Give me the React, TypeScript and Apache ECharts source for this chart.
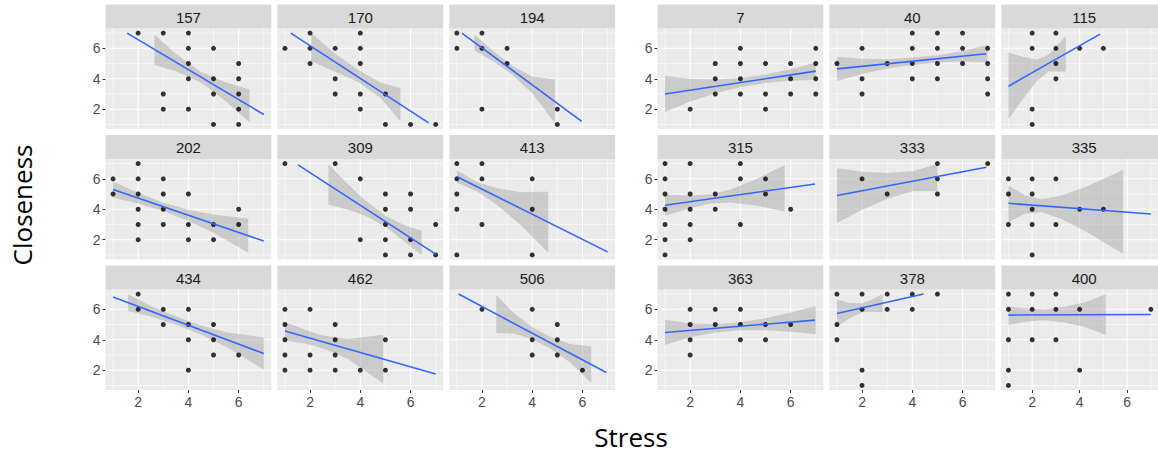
import React, { useEffect, useRef } from 'react';
import * as echarts from 'echarts';

// ---------- data ----------
const leftIds = ['157', '170', '194', '202', '309', '413', '434', '462', '506'];
const rightIds = ['7', '40', '115', '315', '333', '335', '363', '378', '400'];
const xTicks = [2, 4, 6];
const yTicks = [2, 4, 6];
const gridVals = [1, 2, 3, 4, 5, 6, 7];
const xTitle = 'Stress';
const yTitle = 'Closeness';

// points [stress, closeness]
const pts157 = [[2,7],[3,7],[4,7],[4,6],[5,6],[4,5],[6,5],[4,4],[5,4],[6,4],[3,3],[5,3],[6,3],[3,2],[4,2],[6,2],[5,1],[6,1]];
const pts170 = [[2,7],[4,7],[1,6],[2,6],[3,6],[4,6],[2,5],[4,5],[3,4],[3,3],[4,3],[5,3],[4,2],[5,1],[6,1],[7,1]];
const pts194 = [[1,7],[2,7],[1,6],[2,6],[3,6],[3,5],[2,2],[5,2],[5,1]];
const pts202 = [[2,7],[1,6],[2,6],[3,6],[1,5],[2,5],[3,5],[4,5],[2,4],[3,4],[6,4],[2,3],[3,3],[4,3],[5,3],[6,3],[2,2],[4,2],[5,2]];
const pts309 = [[1,7],[3,7],[4,6],[5,5],[6,5],[5,4],[6,4],[5,3],[7,3],[4,2],[5,2],[6,2],[5,1],[6,1],[7,1]];
const pts413 = [[1,7],[2,7],[1,6],[2,6],[4,6],[1,5],[1,4],[4,4],[2,3],[1,1],[4,1]];
const pts434 = [[2,7],[2,6],[3,6],[4,6],[3,5],[4,5],[5,5],[4,4],[5,4],[5,3],[6,3],[4,2]];
const pts462 = [[1,6],[2,6],[1,5],[3,5],[1,4],[3,4],[5,4],[1,3],[2,3],[3,3],[1,2],[2,2],[3,2],[4,2],[5,2]];
const pts506 = [[2,6],[4,6],[5,5],[4,4],[5,4],[4,3],[5,3],[6,2]];
const pts7 = [[4,6],[7,6],[3,5],[4,5],[5,5],[6,5],[7,5],[3,4],[4,4],[6,4],[7,4],[3,3],[4,3],[5,3],[6,3],[7,3],[2,2],[5,2]];
const pts40 = [[4,7],[5,7],[6,7],[2,6],[4,6],[5,6],[6,6],[7,6],[1,5],[3,5],[4,5],[5,5],[6,5],[7,5],[2,4],[4,4],[5,4],[7,4],[2,3],[7,3]];
const pts115 = [[2,7],[3,7],[2,6],[3,6],[4,6],[5,6],[3,5],[3,4],[2,2],[2,1]];
const pts315 = [[1,7],[2,7],[4,7],[1,6],[4,6],[5,6],[1,5],[2,5],[3,5],[5,5],[1,4],[2,4],[3,4],[6,4],[1,3],[2,3],[4,3],[1,2],[2,2],[1,1]];
const pts333 = [[5,7],[7,7],[2,6],[5,6],[3,5],[5,5]];
const pts335 = [[1,6],[2,6],[3,6],[1,5],[2,5],[2,4],[4,4],[5,4],[1,3],[2,3],[3,3],[2,1]];
const pts363 = [[2,6],[3,6],[4,6],[2,5],[3,5],[4,5],[5,5],[6,5],[2,4],[4,4],[5,4],[2,3]];
const pts378 = [[1,7],[2,7],[3,7],[4,7],[5,7],[2,6],[3,6],[4,6],[1,5],[1,4],[2,2],[2,1]];
const pts400 = [[1,7],[2,7],[3,7],[1,6],[2,6],[3,6],[4,6],[7,6],[1,4],[2,4],[3,4],[1,2],[4,2],[1,1]];

// fitted line end points [[x0,y0],[x1,y1]]
const line157 = [[1.56,7.0],[7.0,1.65]];
const line170 = [[1.23,7.0],[6.72,1.1]];
const line194 = [[1.2,7.0],[5.97,1.2]];
const line202 = [[1.0,5.29],[7.0,1.91]];
const line309 = [[1.52,6.91],[7.0,1.05]];
const line413 = [[1.03,6.12],[7.0,1.2]];
const line434 = [[1.0,6.8],[7.0,3.1]];
const line462 = [[1.0,4.57],[7.0,1.75]];
const line506 = [[1.07,7.0],[6.95,1.85]];
const line7 = [[1,3.0],[7,4.5]];
const line40 = [[1,4.65],[6.95,5.64]];
const line115 = [[1,3.51],[4.86,6.93]];
const line315 = [[1,4.26],[6.97,5.66]];
const line333 = [[1,4.9],[6.95,6.76]];
const line335 = [[1,4.39],[7,3.69]];
const line363 = [[1,4.48],[6.97,5.29]];
const line378 = [[1,5.73],[4.45,7.0]];
const line400 = [[1,5.62],[7,5.66]];

// confidence band [x, lower, upper]
const band157 = [[2.65,4.9,6.9],[3.5,4.5,5.65],[4.5,3.75,4.45],[5.5,2.5,3.75],[6.43,1.15,3.3]];
const band170 = [[2.05,5.15,7.0],[3.0,4.45,5.65],[3.9,3.8,4.6],[4.8,2.75,3.75],[5.6,1.2,3.4]];
const band194 = [[1.7,5.85,6.9],[2.5,5.08,5.76],[3.2,4.28,4.86],[4.0,3.05,4.15],[4.9,1.1,3.95]];
const band202 = [[1,4.75,5.83],[2,4.38,5.07],[3,3.88,4.44],[4,3.23,3.97],[5,2.45,3.65],[6.38,1.14,3.38]];
const band309 = [[2.73,4.31,6.95],[3.5,3.96,5.66],[4.2,3.57,4.57],[5,2.87,3.57],[5.8,1.82,2.92],[6.44,1.0,2.6]];
const band413 = [[1,5.74,6.56],[1.8,5.19,5.79],[2.6,4.28,5.38],[3.5,3.03,5.13],[4.64,1.15,5.15]];
const band434 = [[1.6,5.88,6.98],[2.5,5.52,6.22],[3.5,4.98,5.54],[4.5,4.34,4.94],[5.5,3.54,4.5],[7,2.05,4.15]];
const band462 = [[1,3.97,5.17],[1.8,3.75,4.65],[2.5,3.44,4.28],[3.5,2.75,4.05],[4.91,1.13,4.33]];
const band506 = [[2.57,4.44,6.94],[3.3,4.4,5.7],[4,4.03,4.83],[4.7,3.44,4.2],[5.5,2.52,3.72],[6.35,1.17,3.57]];
const band7 = [[1,1.82,4.18],[2,2.5,4.0],[3,3.05,3.95],[4,3.45,4.05],[5,3.72,4.28],[6,3.87,4.63],[7,3.93,5.07]];
const band40 = [[1,3.86,5.44],[2,4.32,5.32],[3,4.68,5.28],[4,4.9,5.4],[5,5.07,5.55],[6,5.14,5.82],[7,5.08,6.22]];
const band115 = [[1,1.33,5.73],[1.6,2.64,5.44],[2.2,3.87,5.27],[2.7,4.47,5.57],[3.42,4.47,6.83]];
const band315 = [[1,3.57,4.95],[2,4.07,4.91],[2.8,4.38,4.98],[3.6,4.45,5.29],[4.6,4.25,5.95],[5.76,3.85,6.91]];
const band333 = [[1,3.1,6.7],[2,3.96,6.46],[3,4.68,6.38],[4,5.19,6.49],[5,5.2,6.95]];
const band335 = [[1,3.15,5.55],[1.7,3.71,4.91],[2.4,3.8,4.66],[3.2,3.38,4.88],[4.3,2.5,5.5],[5.83,1.08,6.58]];
const band363 = [[1,3.65,5.31],[2,4.17,5.07],[3,4.47,5.03],[4,4.63,5.15],[5,4.62,5.42],[6,4.53,5.79],[7,4.36,6.22]];
const band378 = [[1,4.85,6.65],[1.5,5.41,6.41],[2,5.8,6.4],[2.4,5.84,6.64],[2.82,5.8,7.0]];
const band400 = [[1,4.98,6.18],[1.8,5.2,6.05],[2.5,5.28,5.98],[3.3,5.15,6.15],[4.2,4.85,6.45],[5.1,4.32,6.98]];

const leftPts = [pts157, pts170, pts194, pts202, pts309, pts413, pts434, pts462, pts506];
const rightPts = [pts7, pts40, pts115, pts315, pts333, pts335, pts363, pts378, pts400];
const leftLines = [line157, line170, line194, line202, line309, line413, line434, line462, line506];
const rightLines = [line7, line40, line115, line315, line333, line335, line363, line378, line400];
const leftBands = [band157, band170, band194, band202, band309, band413, band434, band462, band506];
const rightBands = [band7, band40, band115, band315, band333, band335, band363, band378, band400];

// ---------- layout ----------
const X_MIN = 0.7, X_MAX = 7.3, Y_MIN = 0.7, Y_MAX = 7.3;
const groupLefts = [105.5, 657.5];
const panelW = 165.8;
const gapX = 6.1;
const stripTop0 = 4.5;
const rowPitch = 130.5;
const stripH = 24;
const plotH = 100.5;

export default function App() {
  const ref = useRef<HTMLDivElement>(null);

  useEffect(() => {
    const chart = echarts.init(ref.current as HTMLDivElement, null, { renderer: 'svg' });

    const grids: any[] = [];
    const xAxes: any[] = [];
    const yAxes: any[] = [];
    const series: any[] = [];
    const graphics: any[] = [];

    const groups = [
      { ids: leftIds, pts: leftPts, lines: leftLines, bands: leftBands },
      { ids: rightIds, pts: rightPts, lines: rightLines, bands: rightBands },
    ];

    groups.forEach((g, gi) => {
      g.ids.forEach((id, k) => {
        const r = Math.floor(k / 3);
        const c = k % 3;
        const left = groupLefts[gi] + c * (panelW + gapX);
        const stripTop = stripTop0 + r * rowPitch;
        const top = stripTop + stripH;
        const idx = grids.length;
        const bottomRow = r === 2;
        const firstCol = c === 0;

        grids.push({
          left, top, width: panelW, height: plotH,
          show: true, backgroundColor: '#EBEBEB', borderWidth: 0, containLabel: false,
        });
        xAxes.push({
          gridIndex: idx, type: 'value', min: X_MIN, max: X_MAX,
          axisLine: { show: false },
          splitLine: { show: false },
          axisTick: { show: bottomRow, customValues: xTicks, length: 3, lineStyle: { color: '#333333', width: 1 } },
          axisLabel: { show: bottomRow, customValues: xTicks, color: '#4D4D4D', fontSize: 14, margin: 5, fontFamily: 'Liberation Sans' },
        });
        yAxes.push({
          gridIndex: idx, type: 'value', min: Y_MIN, max: Y_MAX,
          axisLine: { show: false },
          splitLine: { show: false },
          axisTick: { show: firstCol, customValues: yTicks, length: 3, lineStyle: { color: '#333333', width: 1 } },
          axisLabel: { show: firstCol, customValues: yTicks, color: '#4D4D4D', fontSize: 14, margin: 5, fontFamily: 'Liberation Sans' },
        });

        // grid lines (major / minor) drawn through the axes' scales
        series.push({
          type: 'custom', xAxisIndex: idx, yAxisIndex: idx, silent: true,
          data: gridVals.map((v) => [v, v]),
          renderItem: (_p: any, api: any) => {
            const v = api.value(0);
            const major = xTicks.indexOf(v) >= 0;
            const lw = major ? 1.1 : 0.55;
            const a = api.coord([v, Y_MIN]);
            const b = api.coord([v, Y_MAX]);
            const cc = api.coord([X_MIN, v]);
            const d = api.coord([X_MAX, v]);
            return {
              type: 'group',
              children: [
                { type: 'line', shape: { x1: a[0], y1: a[1], x2: b[0], y2: b[1] }, style: { stroke: '#FFFFFF', lineWidth: lw } },
                { type: 'line', shape: { x1: cc[0], y1: cc[1], x2: d[0], y2: d[1] }, style: { stroke: '#FFFFFF', lineWidth: lw } },
              ],
            };
          },
        });

        // points
        series.push({
          type: 'scatter', xAxisIndex: idx, yAxisIndex: idx, silent: true,
          data: g.pts[k], symbolSize: 5, itemStyle: { color: '#000000' },
        });

        // confidence band
        const band = g.bands[k];
        series.push({
          type: 'custom', xAxisIndex: idx, yAxisIndex: idx, silent: true,
          data: band,
          renderItem: (p: any, api: any) => {
            if (p.dataIndex !== 0) return null;
            const upper = band.map((b) => api.coord([b[0], b[2]]));
            const lower = band.slice().reverse().map((b) => api.coord([b[0], b[1]]));
            return {
              type: 'polygon',
              shape: { points: upper.concat(lower) },
              style: { fill: 'rgba(153,153,153,0.4)' },
            };
          },
        });

        // fitted line
        series.push({
          type: 'line', xAxisIndex: idx, yAxisIndex: idx, silent: true,
          data: g.lines[k], showSymbol: false, symbol: 'none',
          lineStyle: { color: '#3366FF', width: 1.6 },
        });

        // strip
        graphics.push({
          type: 'rect', silent: true,
          shape: { x: left, y: stripTop, width: panelW, height: stripH },
          style: { fill: '#D9D9D9' },
        });
        graphics.push({
          type: 'text', silent: true,
          x: left + panelW / 2, y: stripTop + stripH / 2 + 0.5,
          style: {
            text: id, fill: '#1A1A1A', fontSize: 15, fontFamily: 'Liberation Sans',
            align: 'center', verticalAlign: 'middle',
          },
        });
      });
    });

    graphics.push({
      type: 'text', silent: true, x: 22, y: 205, rotation: Math.PI / 2,
      style: { text: yTitle, fill: '#000000', fontSize: 26, fontFamily: 'Open Sans', align: 'center', verticalAlign: 'middle' },
    });
    graphics.push({
      type: 'text', silent: true, x: 631, y: 437,
      style: { text: xTitle, fill: '#000000', fontSize: 26, fontFamily: 'Open Sans', align: 'center', verticalAlign: 'middle' },
    });

    chart.setOption({
      animation: false,
      backgroundColor: '#FFFFFF',
      grid: grids,
      xAxis: xAxes,
      yAxis: yAxes,
      series,
      graphic: graphics,
    });

    return () => chart.dispose();
  }, []);

  return <div ref={ref} style={{ position: 'fixed', left: 0, top: 0, width: 1158, height: 459 }} />;
}
